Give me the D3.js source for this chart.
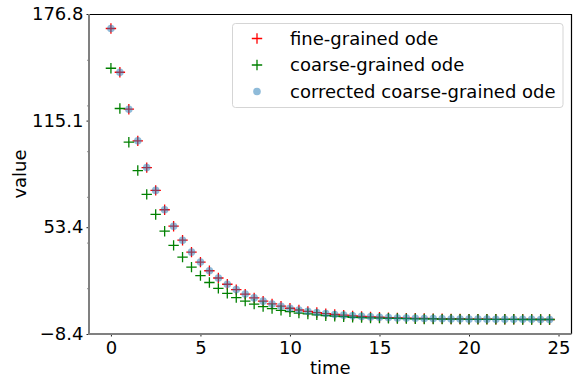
<!DOCTYPE html>
<html>
<head>
<meta charset="utf-8">
<script src="https://cdn.jsdelivr.net/npm/d3@7"></script>
<style>
body { margin: 0; background: #fff; }
text { font-family: "DejaVu Sans", sans-serif; fill: #000; }
</style>
</head>
<body>
<svg id="chart" width="573" height="381"></svg>
<script>
// data
var times = [0, 0.5, 1, 1.5, 2, 2.5, 3, 3.5, 4, 4.5, 5, 5.5, 6, 6.5, 7, 7.5, 8, 8.5, 9, 9.5,
  10, 10.5, 11, 11.5, 12, 12.5, 13, 13.5, 14, 14.5, 15, 15.5, 16, 16.5, 17, 17.5, 18, 18.5, 19, 19.5,
  20, 20.5, 21, 21.5, 22, 22.5, 23, 23.5, 24, 24.5];
var fine = [168.4, 143.1, 121.7, 103.4, 87.9, 74.7, 63.5, 54.0, 45.9, 39.0,
  33.2, 28.2, 24.0, 20.4, 17.3, 14.7, 12.5, 10.6, 9.0, 7.7,
  6.5, 5.5, 4.7, 4.0, 3.4, 2.9, 2.5, 2.1, 1.8, 1.5,
  1.3, 1.1, 0.9, 0.8, 0.7, 0.6, 0.5, 0.4, 0.3, 0.3,
  0.2, 0.2, 0.2, 0.1, 0.1, 0.1, 0.1, 0.1, 0.0, 0.0];
var coarse = [145.4, 122.1, 102.6, 86.2, 72.4, 60.8, 51.1, 42.9, 36.1, 30.3,
  25.4, 21.4, 18.0, 15.1, 12.7, 10.6, 8.9, 7.5, 6.3, 5.3,
  4.5, 3.7, 3.2, 2.7, 2.2, 1.9, 1.6, 1.3, 1.1, 0.9,
  0.8, 0.7, 0.6, 0.5, 0.4, 0.3, 0.3, 0.2, 0.2, 0.2,
  0.1, 0.1, 0.1, 0.1, 0.1, 0.1, 0.0, 0.0, 0.0, 0.0];
var corrected = [168.4, 143.1, 121.7, 103.4, 87.9, 74.7, 63.5, 54.0, 45.9, 39.0,
  33.2, 28.2, 24.0, 20.4, 17.3, 14.7, 12.5, 10.6, 9.0, 7.7,
  6.5, 5.5, 4.7, 4.0, 3.4, 2.9, 2.5, 2.1, 1.8, 1.5,
  1.3, 1.1, 0.9, 0.8, 0.7, 0.6, 0.5, 0.4, 0.3, 0.3,
  0.2, 0.2, 0.2, 0.1, 0.1, 0.1, 0.1, 0.1, 0.0, 0.0];
var xTicks = [0, 5, 10, 15, 20, 25];
var yTicks = [-8.4, 53.4, 115.1, 176.8];
var yTickLabels = ["\u22128.4", "53.4", "115.1", "176.8"];
var yMinor = [-8.4, 18.1, 44.5, 71.0, 97.4, 123.9, 150.3, 176.8];
var names = ["fine-grained ode", "coarse-grained ode", "corrected coarse-grained ode"];

// plot box (window.top is read-only, so no plain "top")
var pL = 89, pR = 571.5, pT = 14, pB = 334;
var fs = "18px";
var svg = d3.select("#chart");

var x = d3.scaleLinear().domain([-1.225, 25.725]).range([pL, pR]);
var y = d3.scaleLinear().domain([-8.4, 176.8]).range([pB, pT]);

// axes
var xAxis = svg.append("g").attr("transform", "translate(0," + pB + ")")
  .call(d3.axisBottom(x).tickValues(xTicks).tickSize(2.5).tickPadding(5).tickFormat(d3.format("d")));
var yAxis = svg.append("g").attr("transform", "translate(" + pL + ",0)")
  .call(d3.axisLeft(y).tickValues(yTicks).tickSize(2.5).tickPadding(3)
    .tickFormat(function(d, i) { return yTickLabels[i]; }));
svg.append("g").attr("transform", "translate(" + pL + ",0)")
  .call(d3.axisLeft(y).tickValues(yMinor).tickSize(1.5).tickFormat(""))
  .select(".domain").remove();
[xAxis, yAxis].forEach(function(a) {
  a.select(".domain").remove();
  a.selectAll("text").style("font-size", fs).attr("fill", "#000");
});
svg.selectAll(".tick line").attr("stroke", "#222");

// spines
svg.append("line").attr("x1", pL).attr("x2", pR).attr("y1", pT + 0.5).attr("y2", pT + 0.5)
  .attr("stroke", "#000").attr("stroke-width", 1.2);
svg.append("line").attr("x1", pR).attr("x2", pR).attr("y1", pT).attr("y2", pB)
  .attr("stroke", "#000").attr("stroke-width", 1.2);
svg.append("line").attr("x1", pL).attr("x2", pL).attr("y1", pT).attr("y2", pB + 1)
  .attr("stroke", "#808080").attr("stroke-width", 2);
svg.append("line").attr("x1", pL - 1).attr("x2", pR).attr("y1", pB).attr("y2", pB)
  .attr("stroke", "#808080").attr("stroke-width", 2);

// labels
svg.append("text").attr("x", (pL + pR) / 2).attr("y", 374)
  .attr("text-anchor", "middle").style("font-size", fs).text("time");
svg.append("text").attr("transform", "translate(20," + (pT + pB) / 2 + ") rotate(-90)")
  .attr("text-anchor", "middle").attr("dy", "0.35em").style("font-size", fs).text("value");

function plus(g, cx, cy, color) {
  var h = 5.2;
  g.append("path").attr("d", "M" + (cx - h) + "," + cy + "H" + (cx + h) + "M" + cx + "," + (cy - h) + "V" + (cy + h))
    .attr("stroke", color).attr("stroke-width", 1.3).attr("fill", "none");
}

// markers
var marks = svg.append("g");
fine.forEach(function(v, i) { plus(marks, x(times[i]), y(v), "#ff0000"); });
coarse.forEach(function(v, i) { plus(marks, x(times[i]), y(v), "#008000"); });
marks.selectAll("circle").data(corrected).enter().append("circle")
  .attr("cx", function(d, i) { return x(times[i]); })
  .attr("cy", function(d) { return y(d); })
  .attr("r", 3.8).attr("fill", "#1f77b4").attr("fill-opacity", 0.5);

// legend
var lg = svg.append("g");
lg.append("rect").attr("x", 232.5).attr("y", 23.5).attr("width", 330.5).attr("height", 84)
  .attr("rx", 3).attr("fill", "#fff").attr("fill-opacity", 0.8).attr("stroke", "#d5d5d5");
var rows = [38.5, 65, 91.5];
plus(lg, 257, rows[0], "#ff0000");
plus(lg, 257, rows[1], "#008000");
lg.append("circle").attr("cx", 257).attr("cy", rows[2]).attr("r", 3.8)
  .attr("fill", "#1f77b4").attr("fill-opacity", 0.5);
names.forEach(function(n, i) {
  lg.append("text").attr("x", 290).attr("y", rows[i]).attr("dy", "0.35em")
    .style("font-size", fs).text(n);
});
</script>
</body>
</html>
